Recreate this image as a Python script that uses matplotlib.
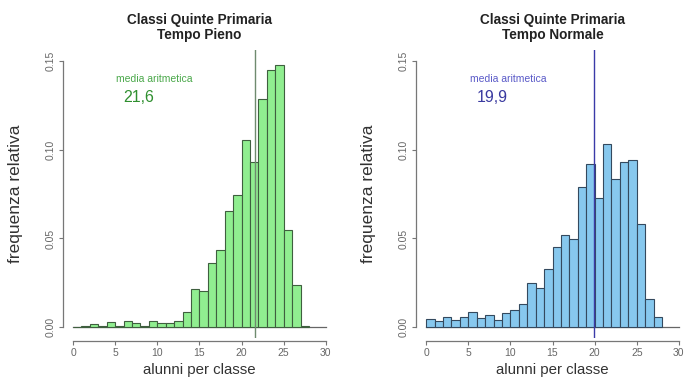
import matplotlib
matplotlib.use("Agg")
import matplotlib.pyplot as plt
import numpy as np

plt.rcParams["font.family"] = ["Liberation Sans", "DejaVu Sans"]

# relative frequency per class size (bins of width 1)
pieno_edges = list(range(0, 29))
pieno_freq = [0.0002, 0.0006, 0.0021, 0.0006, 0.0030, 0.0009, 0.0038, 0.0022, 0.0008,
              0.0038, 0.0022, 0.0022, 0.0038, 0.0084, 0.0214, 0.0206, 0.0364, 0.0436,
              0.0656, 0.0746, 0.1056, 0.0928, 0.1285, 0.1450, 0.1473, 0.0548, 0.0238,
              0.0008]
normale_edges = list(range(0, 29))
normale_freq = [0.0047, 0.0037, 0.0056, 0.0043, 0.0056, 0.0088, 0.0050, 0.0067, 0.0043,
                0.0080, 0.0097, 0.0130, 0.0250, 0.0220, 0.0330, 0.0450, 0.0520, 0.0496,
                0.0790, 0.0920, 0.0730, 0.1030, 0.0835, 0.0930, 0.0940, 0.0580, 0.0160,
                0.0056]

panels = [
    dict(title="Classi Quinte Primaria\nTempo Pieno", edges=pieno_edges, freq=pieno_freq,
         mean=21.6, mean_label="21,6", fill="#90EE90", edge="#3f5f3f",
         vline="#6f8a6f", txt1="#4aa84a", txt2="#2f8f2f", left=62.9),
    dict(title="Classi Quinte Primaria\nTempo Normale", edges=normale_edges, freq=normale_freq,
         mean=19.9, mean_label="19,9", fill="#87C8EE", edge="#34495e",
         vline="#3a3aa8", txt1="#5a5ac8", txt2="#3a3aa0", left=416.0),
]

W, H = 687, 386
fig = plt.figure(figsize=(W / 100, H / 100), dpi=100)

for p in panels:
    ax = fig.add_axes([p["left"] / W, 1 - 338 / H, 273 / W, 288 / H])
    ax.set_xlim(-1.2, 31.2)
    ax.set_ylim(-0.006, 0.156)

    ax.bar(p["edges"][:-1], p["freq"], width=1, align="edge",
           color=p["fill"], edgecolor=p["edge"], linewidth=0.8, zorder=2)
    ax.plot([0, 30], [0, 0], color="#666666", lw=0.9, zorder=1)
    ax.axvline(p["mean"], color=p["vline"], lw=1.0, zorder=3)

    ax.text(9.7, 0.1395, "media aritmetica", color=p["txt1"], fontsize=7.5,
            ha="center", va="center")
    ax.text(7.8, 0.1295, p["mean_label"], color=p["txt2"], fontsize=11.5,
            ha="center", va="center")

    for s in ("top", "right"):
        ax.spines[s].set_visible(False)
    ax.spines["left"].set_bounds(0, 0.15)
    ax.spines["bottom"].set_bounds(0, 30)
    ax.spines["bottom"].set_position(("outward", 2))
    for s in ("left", "bottom"):
        ax.spines[s].set_color("#777777")
        ax.spines[s].set_linewidth(0.9)

    ax.set_xticks(range(0, 31, 5))
    ax.set_yticks([0.0, 0.05, 0.10, 0.15])
    ax.set_yticklabels(["0.00", "0.05", "0.10", "0.15"], rotation=90, va="center")
    ax.tick_params(colors="#777777", labelcolor="#666666", labelsize=7.5,
                   length=3, width=0.8, pad=2)

    ax.set_title(p["title"], fontsize=9.8, fontweight="bold", color="#222222",
                 pad=8, linespacing=1.05)
    ax.set_xlabel("alunni per classe", fontsize=10.8, color="#333333", labelpad=4)
    ax.set_ylabel("frequenza relativa", fontsize=12.5, color="#333333")
    ax.yaxis.set_label_coords(-0.145, 0.5)

fig.savefig("out.png", dpi=100)
